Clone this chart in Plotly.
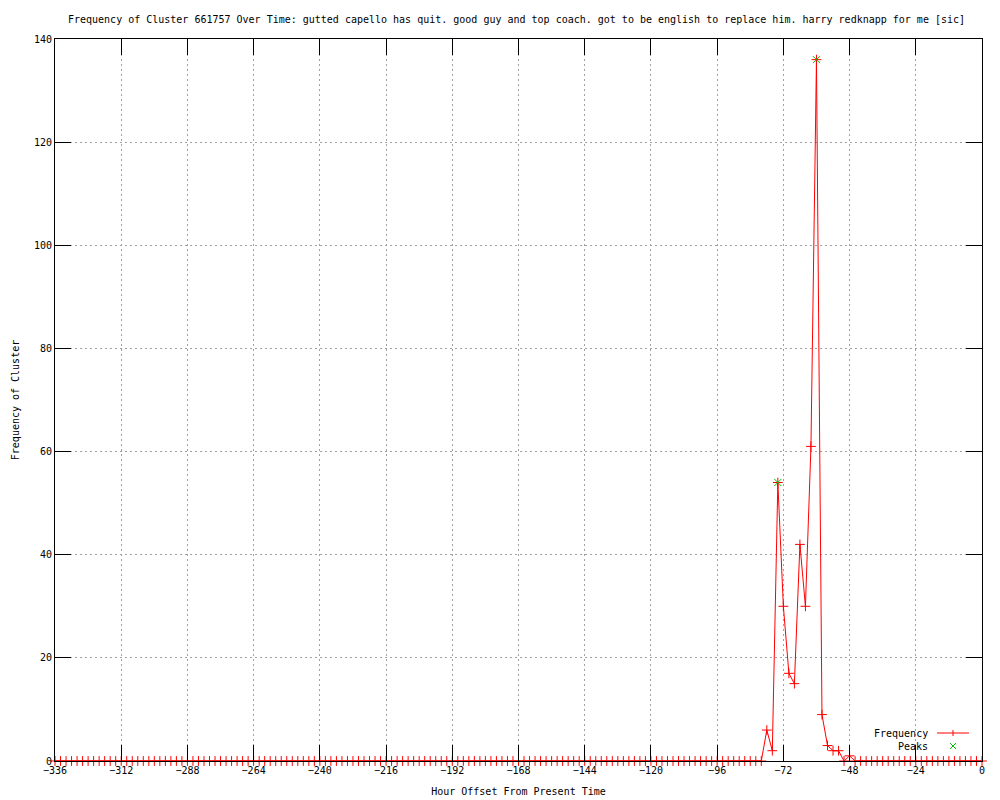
import plotly.graph_objs as go

# hour offsets, one bin every 2 hours
hours = list(range(-336, 1, 2))

freq = [
    0, 0, 0, 0, 0, 0, 0, 0, 0, 0, 0, 0, 0, 0, 0, 0, 0, 0, 0, 0,   # -336 .. -298
    0, 0, 0, 0, 0, 0, 0, 0, 0, 0, 0, 0, 0, 0, 0, 0, 0, 0, 0, 0,   # -296 .. -258
    0, 0, 0, 0, 0, 0, 0, 0, 0, 0, 0, 0, 0, 0, 0, 0, 0, 0, 0, 0,   # -256 .. -218
    0, 0, 0, 0, 0, 0, 0, 0, 0, 0, 0, 0, 0, 0, 0, 0, 0, 0, 0, 0,   # -216 .. -178
    0, 0, 0, 0, 0, 0, 0, 0, 0, 0, 0, 0, 0, 0, 0, 0, 0, 0, 0, 0,   # -176 .. -138
    0, 0, 0, 0, 0, 0, 0, 0, 0, 0, 0, 0, 0, 0, 0, 0, 0, 0, 0, 0,   # -136 .. -98
    0, 0, 0, 0, 0, 0, 0, 0, 0, 6, 2, 54, 30, 17, 15, 42, 30, 61, 136, 9,  # -96 .. -58
    3, 2, 2, 0, 1, 0, 0, 0, 0, 0, 0, 0, 0, 0, 0, 0, 0, 0, 0, 0,   # -56 .. -18
    0, 0, 0, 0, 0, 0, 0, 0, 0,                                    # -16 .. 0
]
assert len(freq) == len(hours)

peak_hours = [-74, -60]
peak_freq = [54, 136]

x_ticks = list(range(-336, 1, 24))
y_ticks = list(range(0, 141, 20))

title = ("Frequency of Cluster 661757 Over Time: gutted capello has quit. good guy and top coach. "
         "got to be english to replace him. harry redknapp for me [sic]")

FONT = "DejaVu Sans Mono"
RED = "#ff0000"
GREEN = "#00c000"

# plot area in pixels (for the hand-drawn gnuplot style key)
L, R, T, B = 55, 982, 39, 761


def px(x):
    return (x - L) / (R - L)


def py(y):
    return (B - y) / (B - T)


fig = go.Figure()
fig.add_trace(go.Scatter(
    x=hours, y=freq, mode='lines+markers', name='Frequency',
    line=dict(color=RED, width=1),
    marker=dict(symbol='cross-thin', size=7, line=dict(color=RED, width=1)),
    cliponaxis=False, showlegend=False))
fig.add_trace(go.Scatter(
    x=peak_hours, y=peak_freq, mode='markers', name='Peaks',
    marker=dict(symbol='x-thin', size=7, line=dict(color=GREEN, width=1)),
    cliponaxis=False, showlegend=False))

axis_style = dict(
    showline=True, linecolor='black', linewidth=1, mirror='ticks',
    ticks='inside', ticklen=16, tickcolor='black', tickwidth=1,
    showgrid=True, gridcolor='#a0a0a0', gridwidth=1, griddash='2px,3px',
    zeroline=False, automargin=False,
    tickfont=dict(family=FONT, size=10, color='black'),
)

fig.update_xaxes(range=[-336, 0], tickvals=x_ticks, ticktext=[str(v).replace('-', '\u2212') for v in x_ticks],
                 title=dict(text='Hour Offset From Present Time', font=dict(family=FONT, size=10, color='black'),
                            standoff=12),
                 **axis_style)
fig.update_yaxes(range=[0, 140], tickvals=y_ticks,
                 title=dict(text='Frequency of Cluster', font=dict(family=FONT, size=10, color='black'),
                            standoff=12),
                 **axis_style)

# key, drawn gnuplot style (text left, sample right)
shapes = [
    dict(type='line', xref='paper', yref='paper', x0=px(937), x1=px(969), y0=py(733), y1=py(733),
         line=dict(color=RED, width=1)),
    dict(type='line', xref='paper', yref='paper', x0=px(953), x1=px(953), y0=py(730), y1=py(736),
         line=dict(color=RED, width=1)),
    dict(type='line', xref='paper', yref='paper', x0=px(950), x1=px(956), y0=py(743), y1=py(749),
         line=dict(color=GREEN, width=1)),
    dict(type='line', xref='paper', yref='paper', x0=px(950), x1=px(956), y0=py(749), y1=py(743),
         line=dict(color=GREEN, width=1)),
]
annotations = [
    dict(text='Frequency', xref='paper', yref='paper', x=px(930), y=py(733), xanchor='right', yanchor='middle',
         showarrow=False, font=dict(family=FONT, size=10, color='black')),
    dict(text='Peaks', xref='paper', yref='paper', x=px(930), y=py(746), xanchor='right', yanchor='middle',
         showarrow=False, font=dict(family=FONT, size=10, color='black')),
]

fig.update_layout(
    width=1000, height=800,
    margin=dict(l=L, r=1000 - R, t=T, b=800 - B, pad=0),
    paper_bgcolor='white', plot_bgcolor='white',
    title=dict(text=title, x=0.5165, xanchor='center', y=1 - 19 / 800, yanchor='middle',
               font=dict(family=FONT, size=10, color='black')),
    shapes=shapes, annotations=annotations,
    showlegend=False,
)

# drop the browser's default body margin so the figure fills the window
fig.write_html("out.html", config={'displayModeBar': False},
               post_script="document.body.style.margin='0';")
